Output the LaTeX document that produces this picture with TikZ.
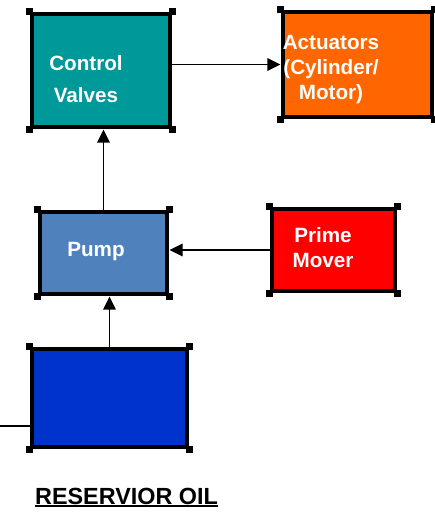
\documentclass[tikz,border=0pt]{standalone}
\usepackage{fontspec}
\setmainfont{Liberation Sans}
\usetikzlibrary{arrows.meta}

\definecolor{valveteal}{HTML}{009999}
\definecolor{actorange}{HTML}{FF6600}
\definecolor{pumpblue}{HTML}{4F81BD}
\definecolor{moverred}{HTML}{FF0000}
\definecolor{tankblue}{HTML}{0033CC}

\begin{document}
\begin{tikzpicture}[scale=0.2]
\tikzstyle{every node}+=[inner sep=0pt]
\tikzstyle{block}=[draw=black, line width=5.5pt]
\tikzstyle{caption}=[text=white, font=\fontsize{23.5}{28}\selectfont\bfseries, align=center]
\tikzstyle{flow}=[black, line width=2.2pt, -{Triangle[length=15pt,width=14pt]}]
\useasboundingbox (0,0) rectangle (86.8,-102.4);
\node [block, fill=valveteal, minimum width=5.52cm, minimum height=4.52cm] (valves) at (20.2,-14.1) {};
\node [caption] (valvestext) at (17.2,-15.8) {Control\\[8pt]Valves};
\node [block, fill=actorange, minimum width=5.96cm, minimum height=4.2cm] (act) at (71.5,-12.9) {};
\node [caption] (acttext) at (66.2,-13.9) {Actuators\\(Cylinder/\\Motor)};
\node [block, fill=pumpblue, minimum width=5.08cm, minimum height=3.28cm] (pump) at (20.7,-50.6) {};
\node [caption] (pumptext) at (19.2,-50.4) {Pump};
\node [block, fill=moverred, minimum width=4.92cm, minimum height=3.28cm] (mover) at (66.7,-50) {};
\node [caption] (movertext) at (64.6,-49.5) {Prime\\Mover};
\node [block, fill=tankblue, minimum width=6.2cm, minimum height=3.92cm] (tank) at (21.9,-79.6) {};
\node [font=\fontsize{26.6}{32}\selectfont\bfseries] (tanktext) at (25.3,-99.3) {RESERVIOR OIL};
\draw [black, line width=2pt] ([yshift=-4pt]tanktext.south west) -- ([yshift=-4pt]tanktext.south east);
\coordinate (drain) at (0,-85.2);
% corner handles
\foreach \n in {valves,act,pump,mover,tank}
  \foreach \a in {north west,north east,south west,south east}
    \fill [black] (\n.\a) +(-0.75,-0.75) rectangle +(0.75,0.75);
% flow lines
\draw [flow] (valves.east |- act.west) -- (act.west);
\draw [flow] (pump.north) -- (pump.north |- valves.south);
\draw [flow] (mover.west) -- (mover.west -| pump.east);
\draw [flow] (tank.north) -- (tank.north |- pump.south);
\draw [black, line width=1.2pt] (drain) -- (drain -| tank.west);
\end{tikzpicture}
\end{document}
